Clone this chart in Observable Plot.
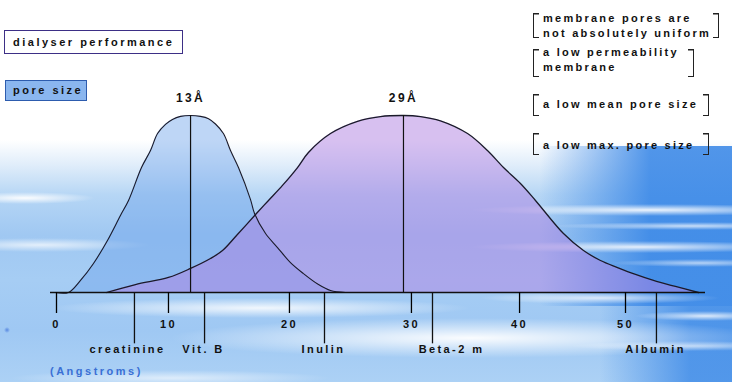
<!DOCTYPE html>
<html>
<head>
<meta charset="utf-8">
<script src="https://cdn.jsdelivr.net/npm/d3@7"></script>
<script src="https://cdn.jsdelivr.net/npm/@observablehq/plot@0.6"></script>
<style>
html, body { margin: 0; padding: 0; background: #fff; }
#wrap {
  position: relative; width: 732px; height: 382px; overflow: hidden;
  font-family: "Liberation Sans", Arial, Helvetica, sans-serif;
  font-weight: bold; font-size: 11px; letter-spacing: 2.5px; color: #111;
  background:
    radial-gradient(ellipse 70px 6px at 25px 198px, rgba(255,255,255,.95), rgba(255,255,255,0)),
    radial-gradient(ellipse 110px 7px at 40px 245px, rgba(255,255,255,.7), rgba(255,255,255,0)),
    radial-gradient(ellipse 180px 6px at 650px 210px, rgba(255,255,255,.9), rgba(255,255,255,0)),
    radial-gradient(ellipse 140px 4px at 690px 226px, rgba(255,255,255,.7), rgba(255,255,255,0)),
    radial-gradient(ellipse 170px 6px at 640px 247px, rgba(255,255,255,.85), rgba(255,255,255,0)),
    radial-gradient(ellipse 90px 4px at 700px 263px, rgba(255,255,255,.6), rgba(255,255,255,0)),
    radial-gradient(ellipse 120px 6px at 600px 298px, rgba(255,255,255,.75), rgba(255,255,255,0)),
    radial-gradient(ellipse 70px 5px at 705px 316px, rgba(255,255,255,.8), rgba(255,255,255,0)),
    radial-gradient(ellipse 210px 10px at 260px 308px, rgba(255,255,255,.85), rgba(255,255,255,0)),
    radial-gradient(ellipse 300px 20px at 470px 338px, rgba(255,255,255,.95), rgba(255,255,255,0)),
    radial-gradient(ellipse 160px 8px at 170px 378px, rgba(255,255,255,.6), rgba(255,255,255,0)),
    radial-gradient(ellipse 120px 5px at 690px 346px, rgba(255,255,255,.6), rgba(255,255,255,0)),
    radial-gradient(circle 3px at 7px 330px, rgba(70,120,220,.8), rgba(70,120,220,0)),
    linear-gradient(to right, rgba(52,132,230,0) 0px, rgba(52,132,230,.85) 110px) 540px 146px / 192px 160px no-repeat,
    linear-gradient(to right, rgba(52,132,230,0) 0px, rgba(52,132,230,.75) 90px) 600px 306px / 132px 76px no-repeat,
    linear-gradient(to bottom, #ffffff 0px, #ffffff 140px, #e0edfa 165px, #b6d6f5 195px, #a0c8f2 235px, #a6cdf4 280px, #9fc8f3 330px, #acd1f5 382px);
}
#wrap svg { position: absolute; left: 0; top: 0; }
.box { position: absolute; box-sizing: border-box; white-space: nowrap; }
#title { left: 4px; top: 30px; width: 179px; height: 24px; border: 1px solid #3d2f86; background: #fff; padding-left: 8px; line-height: 22px; }
#pore { left: 5px; top: 80px; width: 82px; height: 21px; border: 1px solid #2d5cae; background: #8ab6ef; padding-left: 7px; line-height: 19px; }
.note { position: absolute; left: 543px; line-height: 15px; white-space: nowrap; letter-spacing: 2.25px; }
.br {
  position: absolute; box-sizing: border-box; border-left: 1.5px solid #222; border-right: 1.5px solid #222;
  background:
    linear-gradient(#222,#222) left top / 5px 1.5px no-repeat,
    linear-gradient(#222,#222) left bottom / 5px 1.5px no-repeat,
    linear-gradient(#222,#222) right top / 5px 1.5px no-repeat,
    linear-gradient(#222,#222) right bottom / 5px 1.5px no-repeat;
}
#unit { position: absolute; left: 50px; top: 364px; color: #3a6fd4; line-height: 14px; }
</style>
</head>
<body>
<div id="wrap">
  <div class="box" id="title">dialyser performance</div>
  <div class="box" id="pore">pore size</div>
  <div class="br" style="left:533px;top:13px;width:186px;height:25px"></div>
  <div class="note" style="top:10.5px">membrane pores are<br>not absolutely uniform</div>
  <div class="br" style="left:533px;top:49px;width:161px;height:28px"></div>
  <div class="note" style="top:44.5px">a low permeability<br>membrane</div>
  <div class="br" style="left:533px;top:94px;width:176px;height:22px"></div>
  <div class="note" style="top:96.5px">a low mean pore size</div>
  <div class="br" style="left:533px;top:133px;width:176px;height:22px"></div>
  <div class="note" style="top:137.5px">a low max. pore size</div>
  <div id="unit">(Angstroms)</div>
</div>
<script>
// Axis ticks: where each tick sits on the (hand-drawn) Angstrom axis, and its label
const tickAt = [0, 9.84, 20.47, 31.19, 40.69, 50];
const tickLabels = ["0", "10", "20", "30", "40", "50"];

// Narrow pore-size distribution (peak 13 Å) — pore size, relative frequency
const blueX = [-0.09, 1.05, 2.11, 3.25, 4.48, 5.62, 6.33, 7.47, 8.26, 8.88, 9.58, 10.19, 10.90, 11.78, 12.65, 13.36, 13.97, 14.67, 15.29, 15.99, 17.05, 17.40, 18.37, 19.42, 20.56, 21.70, 23.02, 24.08, 25.40];
const blueY = [0, 0, 0.068, 0.164, 0.294, 0.435, 0.520, 0.706, 0.802, 0.898, 0.950, 0.978, 0.995, 1.0, 0.995, 0.982, 0.952, 0.898, 0.802, 0.706, 0.525, 0.446, 0.333, 0.254, 0.169, 0.107, 0.045, 0.011, 0];

// Broad pore-size distribution (peak 29 Å)
const purpleX = [4.39, 6.94, 9.84, 11.78, 13.53, 14.59, 15.82, 17.57, 18.63, 19.86, 21.18, 22.14, 24.08, 26.45, 28.47, 30.49, 31.99, 33.74, 36.12, 37.87, 39.28, 40.77, 42.09, 44.55, 46.31, 47.80, 49.30, 50.88, 52.46, 54.39, 56.41];
const purpleY = [0, 0.045, 0.085, 0.136, 0.192, 0.237, 0.322, 0.446, 0.520, 0.605, 0.706, 0.791, 0.898, 0.967, 0.994, 1.0, 0.994, 0.970, 0.898, 0.802, 0.706, 0.616, 0.520, 0.333, 0.237, 0.181, 0.141, 0.102, 0.068, 0.034, 0];

// Peaks (position on the drawn axis, label)
const peakLabels = ["13Å", "29Å"];
const peakAt = [11.78, 30.49];

// Molecules: where their marker sits and where their name sits
const molecules = ["creatinine", "Vit. B", "Inulin", "Beta-2 m", "Albumin"];
const moleculeAt = [6.85, 13.01, 23.55, 33.04, 52.72];
const moleculeLabelAt = [6.24, 12.92, 23.46, 34.71, 52.64];

const blue = blueX.map((x, i) => ({x, y: blueY[i]}));
const purple = purpleX.map((x, i) => ({x, y: purpleY[i]}));
const peaks = peakAt.map((at, i) => ({at, label: peakLabels[i]}));
const mols = molecules.map((name, i) => ({name, at: moleculeAt[i], labelAt: moleculeLabelAt[i]}));

const curve = "catmull-rom";
const chart = Plot.plot({
  width: 732,
  height: 382,
  marginLeft: 50,
  marginRight: 27,
  marginTop: 115,
  marginBottom: 90,
  style: "background: transparent; overflow: visible; font-family: 'Liberation Sans', Arial, Helvetica, sans-serif; font-size: 11px; font-weight: bold; letter-spacing: 2.4px; color: #000;",
  x: {domain: [0, 50], range: [56, 625]},
  y: {domain: [0, 1], range: [292, 115], axis: null},
  marks: [
    Plot.areaY(blue, {x: "x", y: "y", fill: "rgb(110,165,235)", fillOpacity: 0.45, curve}),
    Plot.areaY(purple, {x: "x", y: "y", fill: "rgb(175,130,225)", fillOpacity: 0.5, curve}),
    Plot.lineY(blue, {x: "x", y: "y", stroke: "#1a1a2a", strokeWidth: 1.1, curve}),
    Plot.lineY(purple, {x: "x", y: "y", stroke: "#1a1a2a", strokeWidth: 1.3, curve}),
    Plot.ruleX(peaks, {x: "at", y1: 0, y2: 1, stroke: "#111", strokeWidth: 1.2}),
    Plot.text(peaks, {x: "at", y: 1, text: "label", dy: -17, fontSize: 12, fill: "#111"}),
    Plot.ruleY([0], {stroke: "#111", strokeWidth: 1.6}),
    Plot.axisX({ticks: tickAt, tickSize: 21, tickPadding: 7, tickFormat: d => tickLabels[tickAt.indexOf(d)], strokeWidth: 1.3, fill: "#111", label: null}),
    Plot.ruleX(mols, {x: "at", y1: 0, y2: -0.29, stroke: "#111", strokeWidth: 1.3}),
    Plot.text(mols, {x: "labelAt", y: 0, text: "name", dy: 57, fill: "#111"})
  ]
});
document.getElementById("wrap").appendChild(chart);
</script>
</body>
</html>
